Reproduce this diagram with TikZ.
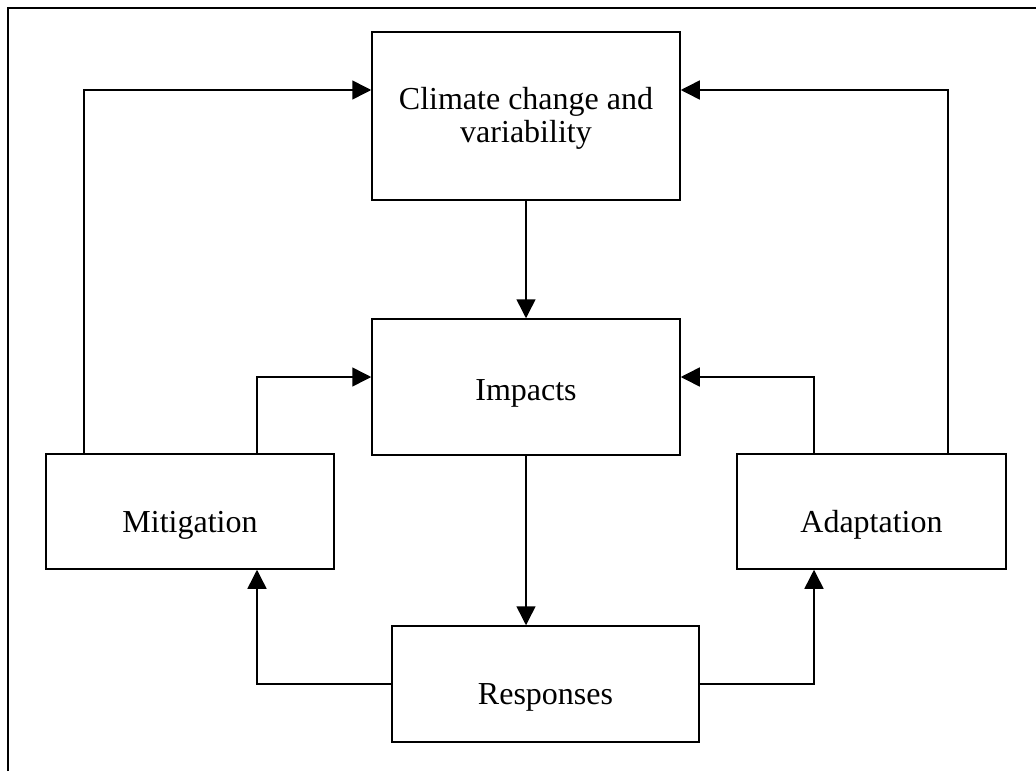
\documentclass[tikz,border=0pt]{standalone}
\usepackage{fontspec}
\setmainfont{Liberation Serif}
\usetikzlibrary{arrows.meta}
\begin{document}
\begin{tikzpicture}[x=1pt,y=-1pt,
  box/.style={draw, line width=1.5pt, inner sep=0pt, font=\fontsize{32}{33}\selectfont},
  low/.style={text height=41pt, text depth=0pt},
  mid/.style={text height=27pt, text depth=0pt},
  arr/.style={line width=1.5pt, -{Triangle[length=19pt,width=19pt]}},
  frame/.style={line width=2pt}]
\useasboundingbox (0,0) rectangle (1036,771);
\draw[frame] (8,771) -- (8,8) -- (1036,8);

\node[box, minimum width=308pt, minimum height=168pt, align=center] (clim) at (526,116) {\rule{0pt}{27pt}Climate change and\\variability};
\node[box, mid, minimum width=308pt, minimum height=136pt] (imp) at (526,387) {Impacts};
\node[box, low, minimum width=288pt, minimum height=115pt] (mit) at (190,511.5) {Mitigation};
\node[box, low, minimum width=269pt, minimum height=115pt] (ada) at (871.5,511.5) {Adaptation};
\node[box, low, minimum width=307pt, minimum height=116pt] (resp) at (545.5,684) {Responses};

\coordinate (xa) at (84,0);
\coordinate (xb) at (257,0);
\coordinate (xc) at (814,0);
\coordinate (xd) at (948,0);
\coordinate (ytop) at (0,90);
\coordinate (ymid) at (0,377);

\draw[arr] (clim.south) -- (imp.north);
\draw[arr] (mit.north -| xa) |- (clim.west |- ytop);
\draw[arr] (mit.north -| xb) |- (imp.west |- ymid);
\draw[arr] (ada.north -| xc) |- (imp.east |- ymid);
\draw[arr] (ada.north -| xd) |- (clim.east |- ytop);
\draw[arr] (imp.south) -- (resp.north -| imp.south);
\draw[arr] (resp.west) -| (mit.south -| xb);
\draw[arr] (resp.east) -| (ada.south -| xc);
\end{tikzpicture}
\end{document}
